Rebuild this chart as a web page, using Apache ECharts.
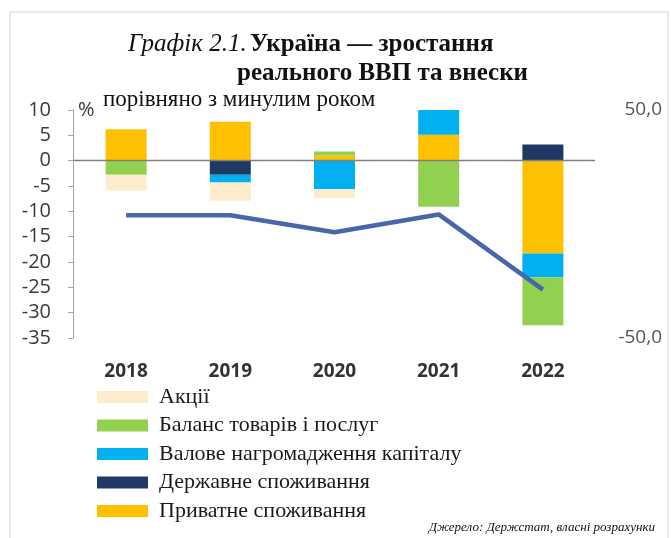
<!DOCTYPE html>
<html>
<head>
<meta charset="utf-8">
<script src="https://cdn.jsdelivr.net/npm/echarts@6/dist/echarts.min.js"></script>
<style>
html,body{margin:0;padding:0;background:#fff;}
#chart{width:671px;height:538px;}
</style>
</head>
<body>
<div id="chart"></div>
<script>
var categories = ['2018', '2019', '2020', '2021', '2022'];
var privateCons = [6.2, 7.7, 1.0, 5.1, -18.3];
var govCons = [0, -2.8, 0, 0, 3.2];
var gfcf = [0, -1.5, -5.6, 5.1, -4.7];
var netExports = [-2.8, 0, 0.8, -9.1, -9.5];
var inventories = [-3.1, -3.6, -1.8, 0, 0];
var gdpGrowth = [3.8, 3.8, -3.6, 4.2, -28.8];
var leftTicks = { min: -35, max: 10, interval: 5 };
var rightTicks = { min: -50, max: 50, interval: 50 };

var names = {
  inv: 'Акції',
  nx: 'Баланс товарів і послуг',
  gfcf: 'Валове нагромадження капіталу',
  gov: 'Державне споживання',
  priv: 'Приватне споживання'
};
var colors = {
  inv: '#FDECCB',
  nx: '#92D050',
  gfcf: '#00B0F0',
  gov: '#1F3864',
  priv: '#FFC000'
};

var chart = echarts.init(document.getElementById('chart'));
var serif = '"Liberation Serif", "DejaVu Serif", serif';
var sans = '"Open Sans", "Noto Sans", sans-serif';

function barSeries(key, data, extra) {
  var s = {
    name: names[key],
    type: 'bar',
    stack: 'total',
    barWidth: 41,
    data: data,
    itemStyle: { color: colors[key] },
    silent: true
  };
  if (extra) { for (var k in extra) s[k] = extra[k]; }
  return s;
}

var option = {
  animation: false,
  backgroundColor: '#fff',
  grid: { left: 74, right: 76, top: 110, bottom: 200, containLabel: false },
  xAxis: {
    type: 'category',
    data: categories,
    axisLine: { show: false },
    axisTick: { show: false },
    axisLabel: { margin: 24, fontFamily: sans, fontWeight: 'bold', fontSize: 19, color: '#333' }
  },
  yAxis: [
    {
      type: 'value',
      min: leftTicks.min, max: leftTicks.max, interval: leftTicks.interval,
      offset: 1,
      axisLine: { show: true, lineStyle: { color: '#a6a6a6', width: 1 } },
      axisTick: { show: true, length: 5, lineStyle: { color: '#a6a6a6' } },
      splitLine: { show: false },
      axisLabel: { margin: 22, fontFamily: sans, fontSize: 20, color: '#3a3a3a' }
    },
    {
      type: 'value',
      position: 'right',
      min: rightTicks.min, max: rightTicks.max, interval: rightTicks.interval,
      axisLine: { show: false },
      axisTick: { show: false },
      splitLine: { show: false },
      axisLabel: {
        margin: 67, align: 'right', fontFamily: sans, fontSize: 19, color: '#555',
        formatter: function (v) { return v === 0 ? '' : v.toFixed(1).replace('.', ','); }
      }
    }
  ],
  legend: {
    data: [names.inv, names.nx, names.gfcf, names.gov, names.priv],
    orient: 'vertical',
    left: 97,
    top: 386,
    padding: 0,
    icon: 'rect',
    itemWidth: 51,
    itemHeight: 12,
    itemGap: 6.5,
    selectedMode: false,
    textStyle: { fontFamily: serif, fontSize: 22, color: '#1a1a1a', lineHeight: 22, padding: [0, 0, 0, 6] }
  },
  series: [
    barSeries('priv', privateCons, {
      markLine: {
        silent: true, symbol: 'none', label: { show: false },
        lineStyle: { color: '#7f7f7f', width: 1.3, type: 'solid' },
        data: [{ yAxis: 0 }]
      }
    }),
    barSeries('gov', govCons),
    barSeries('gfcf', gfcf),
    barSeries('nx', netExports),
    barSeries('inv', inventories),
    {
      name: 'ВВП',
      type: 'line',
      yAxisIndex: 1,
      data: gdpGrowth,
      symbol: 'none',
      z: 5,
      lineStyle: { color: '#4767AB', width: 4.5 },
      itemStyle: { color: '#4767AB' },
      silent: true
    }
  ],
  graphic: [
    {
      type: 'rect', silent: true, z: -1,
      shape: { x: 10, y: 12, width: 658, height: 540 },
      style: { fill: 'none', stroke: '#e2e2e2', lineWidth: 1.5 }
    },
    {
      type: 'text', left: 128, top: 32, silent: true,
      style: {
        text: '{i|Графік 2.1.} {b|Україна — зростання}',
        rich: {
          i: { fontFamily: serif, fontStyle: 'italic', fontSize: 25, fill: '#111' },
          b: { fontFamily: serif, fontWeight: 'bold', fontSize: 25, fill: '#111' }
        }
      }
    },
    {
      type: 'text', right: 671 - 528, top: 61, silent: true,
      style: { text: 'реального ВВП та внески', fontFamily: serif, fontWeight: 'bold', fontSize: 25, fill: '#111', textAlign: 'right' }
    },
    {
      type: 'text', left: 103, top: 88, silent: true,
      style: { text: 'порівняно з минулим роком', fontFamily: serif, fontSize: 23, fill: '#111' }
    },
    {
      type: 'text', left: 78, top: 100, silent: true,
      style: { text: '%', fontFamily: sans, fontSize: 20, fill: '#3a3a3a' }
    },
    {
      type: 'text', right: 16, top: 521, silent: true,
      style: { text: 'Джерело: Держстат, власні розрахунки', fontFamily: serif, fontStyle: 'italic', fontSize: 13, fill: '#111' }
    }
  ]
};
chart.setOption(option);
</script>
</body>
</html>
